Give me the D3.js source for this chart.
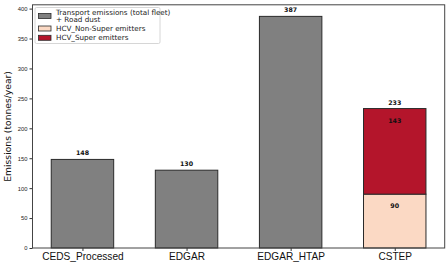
<!DOCTYPE html>
<html><head><meta charset="utf-8">
<script src="https://cdn.jsdelivr.net/npm/d3@7"></script>
<style>body{margin:0;background:#fff}svg{display:block;font-family:"DejaVu Sans",sans-serif}</style>
</head><body><svg id="c" width="448" height="268"></svg>
<script>
const categories = ["CEDS_Processed","EDGAR","EDGAR_HTAP","CSTEP"];
const transport = [148,130,387,0];
const hcvNonSuper = [0,0,0,90];
const hcvSuper = [0,0,0,143];
const totals = [148,130,387,233];
const yTicks = [0,50,100,150,200,250,300,350,400];
const legendLabels = [["Transport emissions (total fleet)","+ Road dust"],["HCV_Non-Super emitters"],["HCV_Super emitters"]];
const colors = ["#808080","#fbd9c4","#b4152b"];

const svg = d3.select("#c");
const L=32.5, R=444.7, T=4.8, B=248;
const x = d3.scaleLinear().domain([-0.48,3.48]).range([L,R]);
const y = d3.scaleLinear().domain([0,406.35]).range([B,T]);
const bw = x(0.3)-x(-0.3);

// bars
const g = svg.append("g");
categories.forEach((c,i)=>{
  const segs = [];
  if (transport[i]>0) segs.push({v0:0,v1:transport[i],col:colors[0]});
  if (hcvNonSuper[i]>0) segs.push({v0:0,v1:hcvNonSuper[i],col:colors[1]});
  if (hcvSuper[i]>0) segs.push({v0:hcvNonSuper[i],v1:hcvNonSuper[i]+hcvSuper[i],col:colors[2]});
  segs.forEach(s=>{
    g.append("rect").attr("x",x(i)-bw/2).attr("width",bw)
      .attr("y",y(s.v1)).attr("height",y(s.v0)-y(s.v1))
      .attr("fill",s.col).attr("stroke","#2a2a2a").attr("stroke-width",1);
  });
  g.append("text").attr("x",x(i)).attr("y",y(totals[i])-4).attr("text-anchor","middle")
    .attr("font-size",6.3).attr("font-weight","bold").attr("fill","#111").text(totals[i]);
  if (hcvNonSuper[i]>0) {
    g.append("text").attr("x",x(i)).attr("y",y(hcvNonSuper[i])+14).attr("text-anchor","middle")
      .attr("font-size",6.3).attr("font-weight","bold").attr("fill","#111").text(hcvNonSuper[i]);
    g.append("text").attr("x",x(i)).attr("y",y(hcvNonSuper[i]+hcvSuper[i])+14).attr("text-anchor","middle")
      .attr("font-size",6.3).attr("font-weight","bold").attr("fill","#111").text(hcvSuper[i]);
  }
});

// axes
const ya = svg.append("g").attr("transform",`translate(${L},0)`)
  .call(d3.axisLeft(y).tickValues(yTicks).tickSize(3).tickPadding(2));
ya.selectAll("text").attr("font-size",5.8).attr("fill","#222");
const xa = svg.append("g").attr("transform",`translate(0,${B})`)
  .call(d3.axisBottom(x).tickValues([0,1,2,3]).tickFormat(i=>categories[i]).tickSize(3).tickPadding(2));
xa.selectAll("text").attr("font-size",10.1).attr("fill","#111");
[ya,xa].forEach(a=>{a.select(".domain").remove();a.selectAll("line").attr("stroke","#333");});
svg.append("rect").attr("x",L).attr("y",T).attr("width",R-L).attr("height",B-T)
  .attr("fill","none").attr("stroke","#444").attr("stroke-width",1);

svg.append("text").attr("transform",`translate(11,${(T+B)/2}) rotate(-90)`)
  .attr("text-anchor","middle").attr("font-size",9.2).attr("fill","#111").text("Emissions (tonnes/year)");

// legend
const lg = svg.append("g");
lg.append("rect").attr("x",35).attr("y",7.5).attr("width",125).attr("height",36).attr("rx",1.5)
  .attr("fill","#fff").attr("stroke","#ccc").attr("stroke-width",0.8);
const ly = [16,28.5,37.8];
legendLabels.forEach((lab,i)=>{
  lg.append("rect").attr("x",38.5).attr("y",ly[i]-2.5).attr("width",12.5).attr("height",5)
    .attr("fill",colors[i]).attr("stroke","#2a2a2a").attr("stroke-width",0.8);
  if (lab.length===2){
    lg.append("text").attr("x",56).attr("y",ly[i]-1.5).attr("font-size",7.2).attr("fill","#222").text(lab[0]);
    lg.append("text").attr("x",56).attr("y",ly[i]+6.2).attr("font-size",7.2).attr("fill","#222").text(lab[1]);
  } else {
    lg.append("text").attr("x",56).attr("y",ly[i]+2.5).attr("font-size",7.2).attr("fill","#222").text(lab[0]);
  }
});
</script></body></html>
